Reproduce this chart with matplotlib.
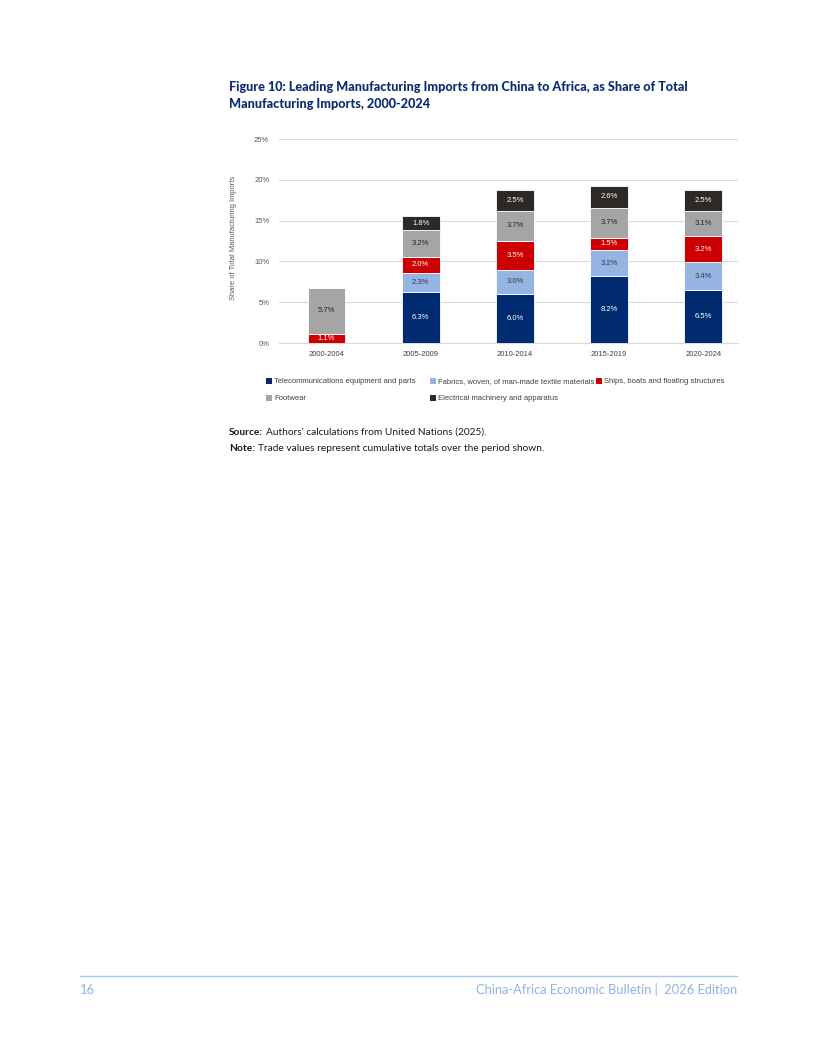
import matplotlib
matplotlib.use("Agg")
import matplotlib.pyplot as plt
from matplotlib.patches import Patch
from matplotlib.lines import Line2D

periods = ["2000-2004", "2005-2009", "2010-2014", "2015-2019", "2020-2024"]
series_names = [
    "Telecommunications equipment and parts",
    "Fabrics, woven, of man-made textile materials",
    "Ships, boats and floating structures",
    "Footwear",
    "Electrical machinery and apparatus",
]
telecom = [0.0, 6.3, 6.0, 8.2, 6.5]
fabrics = [0.0, 2.3, 3.0, 3.2, 3.4]
ships = [1.1, 2.0, 3.5, 1.5, 3.2]
footwear = [5.7, 3.2, 3.7, 3.7, 3.1]
electrical = [0.0, 1.8, 2.5, 2.6, 2.5]
yticks = [0, 5, 10, 15, 20, 25]

colors = ["#002B70", "#95B3E3", "#CC0000", "#A5A5A5", "#2D2926"]
label_colors = ["white", "#3A3A3A", "white", "#262626", "white"]

W, H = 816, 1056
fig = plt.figure(figsize=(W / 100, H / 100), dpi=100)

chart_font = ["Liberation Sans", "DejaVu Sans"]
text_font = ["Lato", "DejaVu Sans"]
fs = 5.5

ax = fig.add_axes([279 / W, 1 - 343 / H, (738 - 279) / W, (343 - 139) / H])
x = list(range(len(periods)))
bottom = [0.0] * len(periods)
all_series = [telecom, fabrics, ships, footwear, electrical]
for vals, col, lc in zip(all_series, colors, label_colors):
    ax.bar(x, vals, 0.4, bottom=bottom, color=col, edgecolor="white",
           linewidth=0.6, zorder=3)
    for i, v in enumerate(vals):
        if v > 0:
            ax.text(i, bottom[i] + v / 2, f"{v:.1f}%", ha="center", va="center",
                    fontsize=fs, color=lc, family=chart_font, zorder=4)
    bottom = [b + v for b, v in zip(bottom, vals)]

ax.set_xlim(-0.505, 4.37)
ax.set_ylim(0, 25)
ax.set_yticks(yticks)
ax.set_yticklabels([f"{t}%" for t in yticks], family=chart_font, fontsize=fs,
                   color="#595959")
ax.set_xticks(x)
ax.set_xticklabels(periods, family=chart_font, fontsize=fs, color="#404040")
ax.tick_params(axis="y", length=0, pad=7)
ax.tick_params(axis="x", length=0, pad=6)
ax.grid(axis="y", color="#D9D9D9", linewidth=0.8, zorder=0)
for s in ["top", "right", "left"]:
    ax.spines[s].set_visible(False)
ax.spines["bottom"].set_color("#D9D9D9")
ax.spines["bottom"].set_linewidth(0.8)
ax.set_axisbelow(True)

fig.text(234 / W, 1 - 238 / H, "Share of Total Manufacturing Imports", rotation=90,
         ha="center", va="center", fontsize=5.4, color="#595959", family=chart_font)

# legend in three columns
handles = [Patch(facecolor=c, edgecolor="none") for c in colors]
groups = [([0, 3], 266), ([1, 4], 430), ([2], 596)]
for idxs, xpos in groups:
    fig.legend([handles[i] for i in idxs], [series_names[i] for i in idxs],
               loc="upper left", bbox_to_anchor=(xpos / W, 1 - 378 / H),
               frameon=False, borderpad=0, borderaxespad=0,
               handlelength=0.75, handleheight=0.75, handletextpad=0.35,
               labelspacing=1.25,
               prop={"family": chart_font, "size": fs}, labelcolor="#404040")

# title
navy = "#0B2C6E"
for y, s in [(87, "Figure 10: Leading Manufacturing Imports from China to Africa, as Share of Total"),
             (104, "Manufacturing Imports, 2000-2024")]:
    fig.text(229 / W, 1 - y / H, s, ha="left", va="center", fontsize=9.1,
             fontweight=900, color=navy, family=text_font)

# source and note
renderer = fig.canvas.get_renderer()
def bold_lead(y, lead, rest):
    t = fig.text(229 / W, 1 - y / H, lead, ha="left", va="center", fontsize=7.3,
                 fontweight="bold", color="#1A1A1A", family=text_font)
    bb = t.get_window_extent(renderer=renderer)
    fig.text(bb.x1 / W + 3 / W, 1 - y / H, rest, ha="left", va="center",
             fontsize=7.3, color="#1A1A1A", family=text_font)

bold_lead(432, "Source:", "Authors\u2019 calculations from United Nations (2025).")
bold_lead(448, "Note:", "Trade values represent cumulative totals over the period shown.")

# footer
fig.add_artist(Line2D([80 / W, 737 / W], [1 - 976 / H, 1 - 976 / H],
                      color="#A9C8F0", linewidth=1.0))
fig.text(80 / W, 1 - 990 / H, "16", ha="left", va="center", fontsize=9.3,
         color="#8DB3E6", family=text_font)
fig.text(737 / W, 1 - 990 / H, "China-Africa Economic Bulletin |  2026 Edition",
         ha="right", va="center", fontsize=9.3, color="#8DB3E6", family=text_font)

fig.savefig("out.png", dpi=100)
